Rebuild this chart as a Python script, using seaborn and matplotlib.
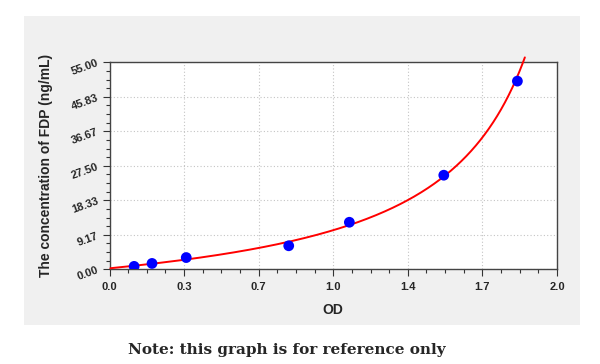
import numpy as np
import pandas as pd
import seaborn as sns
import matplotlib.pyplot as plt
from matplotlib.patches import Rectangle
from matplotlib.ticker import FixedLocator, AutoMinorLocator

# Dados (curva padrão FDP)
od = [0.110, 0.190, 0.343, 0.801, 1.072, 1.494, 1.823]
conc = [0.78, 1.56, 3.12, 6.25, 12.5, 25.0, 50.0]

x_ticks = [0, 1/3, 2/3, 1.0, 4/3, 5/3, 2.0]
x_labels = ["0.0", "0.3", "0.7", "1.0", "1.4", "1.7", "2.0"]
y_ticks = [0, 55/6, 110/6, 27.5, 220/6, 275/6, 55.0]
y_labels = ["0.00", "9.17", "18.33", "27.50", "36.67", "45.83", "55.00"]

sns.set_style("ticks")
plt.rcParams["font.family"] = ["Liberation Sans", "DejaVu Sans"]

dados = pd.DataFrame({"OD": od, "conc": conc})

# ajuste 4PL: OD = D + (A - D) / (1 + (conc/C)^B)
# busca em grade para B e C, A e D por mínimos quadrados
c_arr = dados.conc.values
od_arr = dados.OD.values
melhor = None
for B in np.linspace(0.3, 3.0, 136):
    for C in np.logspace(0, 3, 241):
        g = 1 / (1 + (c_arr / C) ** B)
        M = np.column_stack([g, 1 - g])
        sol, *_ = np.linalg.lstsq(M, od_arr, rcond=None)
        err = np.sum((M @ sol - od_arr) ** 2)
        if melhor is None or err < melhor[0]:
            melhor = (err, B, C, sol[0], sol[1])
_, B, C, A, D = melhor

yy = np.linspace(0.0, 56.3, 400)
xx = D + (A - D) / (1 + (yy / C) ** B)
curva = pd.DataFrame({"OD": xx, "conc": yy})
curva = curva[curva.OD >= 0]

fig = plt.figure(figsize=(6, 3.64), dpi=100)
fig.patch.set_facecolor("white")
fig.patches.append(Rectangle((24/600, 1 - 325/364), 556/600, 309/364,
                             transform=fig.transFigure, facecolor="#f0f0f0",
                             edgecolor="none", zorder=-10))

ax = fig.add_axes([109.5/600, 1 - 269.3/364, 447.5/600, 207/364])
ax.set_facecolor("white")

sns.lineplot(data=curva, x="OD", y="conc", ax=ax, color="red", lw=1.4,
             sort=False, estimator=None, clip_on=False, zorder=3)
sns.scatterplot(data=dados, x="OD", y="conc", ax=ax, color="#0000ff",
                s=60, edgecolor="none", zorder=4)

ax.set_xlim(0, 2.0)
ax.set_ylim(0, 55)
ax.xaxis.set_major_locator(FixedLocator(x_ticks))
ax.yaxis.set_major_locator(FixedLocator(y_ticks))
ax.xaxis.set_minor_locator(AutoMinorLocator(4))
ax.yaxis.set_minor_locator(AutoMinorLocator(4))
ax.set_xticklabels(x_labels, fontsize=8, fontweight="bold")
ax.set_yticklabels(y_labels, fontsize=8, fontweight="bold", rotation=20)
ax.tick_params(which="major", direction="out", length=5, width=0.8, color="#333333")
ax.tick_params(which="minor", direction="out", length=3, width=0.8, color="#333333")
ax.tick_params(axis="x", pad=4)
ax.tick_params(axis="y", pad=2)

ax.grid(True, which="major", ls=(0, (1, 2)), color="#c4c4c4", lw=0.8)
for s in ax.spines.values():
    s.set_color("#444444")
    s.set_linewidth(1.0)

ax.set_xlabel("OD", fontsize=10, fontweight="bold", labelpad=8)
ax.set_ylabel("The concentration of FDP (ng/mL)", fontsize=10, fontweight="bold", labelpad=12)

fig.text(287/600, 1 - 350/364, "Note: this graph is for reference only",
         ha="center", va="center", fontsize=11, fontweight="bold",
         family=["DejaVu Serif"])

fig.savefig("out.png", dpi=100)
